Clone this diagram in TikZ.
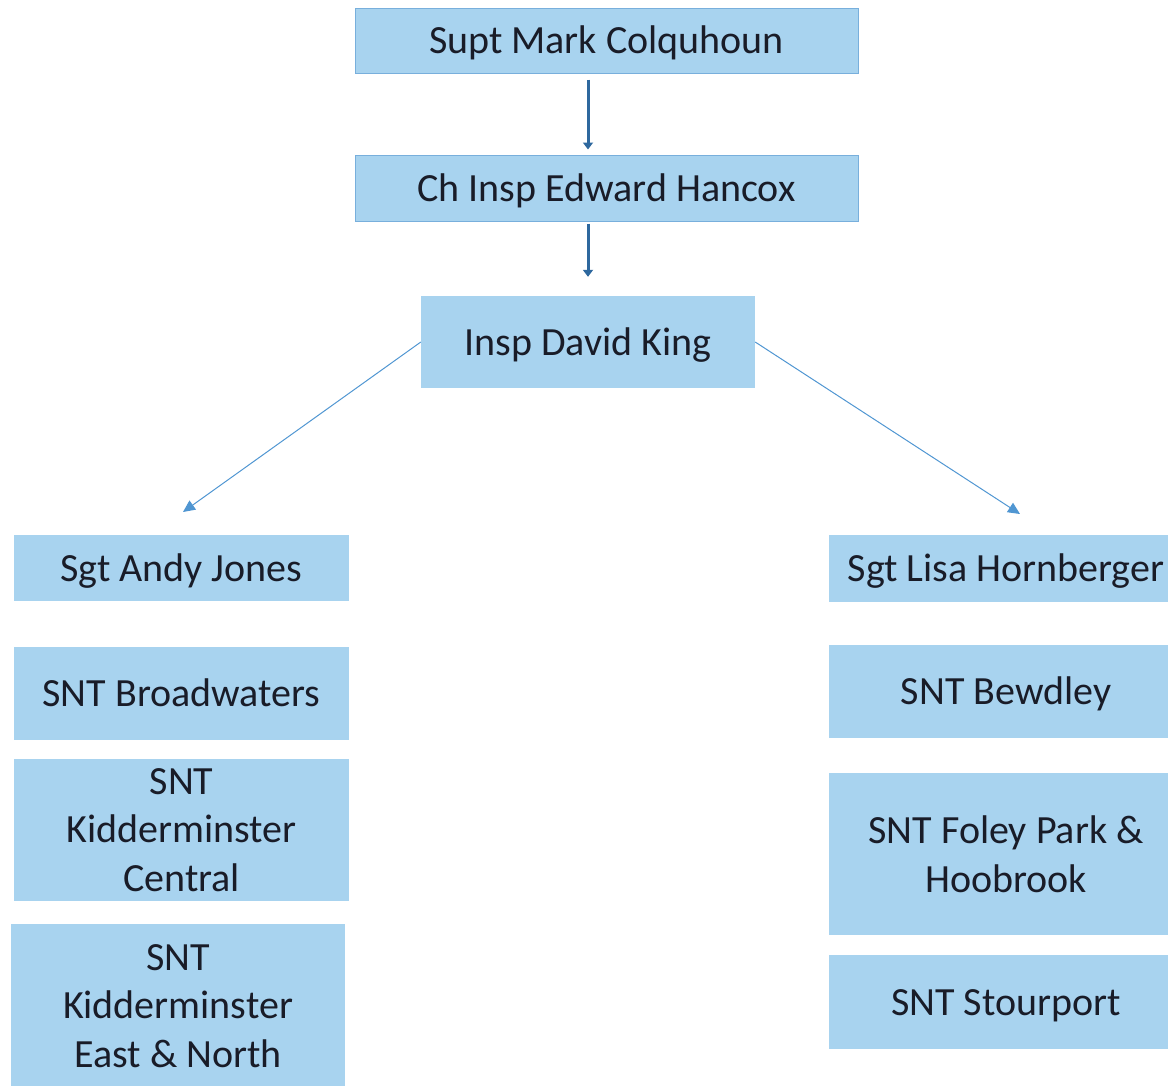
\documentclass[tikz,border=0pt]{standalone}
\usepackage{fontspec}
\setmainfont{Carlito}
\usepackage{tikz}
\usetikzlibrary{arrows.meta}
\definecolor{boxblue}{RGB}{168,211,239}
\definecolor{edgeblue}{RGB}{120,175,220}
\definecolor{darkarrow}{RGB}{46,104,158}
\definecolor{thinarrow}{RGB}{80,150,210}
\definecolor{txt}{RGB}{25,28,40}

\begin{document}
\begin{tikzpicture}[x=1pt,y=-1pt,
  box/.style={rectangle,fill=boxblue,inner sep=0pt,align=center,text=txt,
    font=\fontsize{40}{48.8}\selectfont},
  oneline/.style={box,text height=27pt,text depth=1pt},
  topbox/.style={oneline,draw=edgeblue,line width=1pt},
  downarrow/.style={draw=darkarrow,line width=3pt,-{Triangle[length=7pt,width=10pt]}},
  slantarrow/.style={draw=thinarrow,line width=1pt,-{Triangle[length=12pt,width=11pt]}}]
\useasboundingbox (0,0) rectangle (1168,1085);
%\fill[white] (0,0) rectangle (1168,1085);
\path (606.5,40.5) node(supt) [topbox,minimum width=503pt,minimum height=65pt]{Supt Mark Colquhoun};
\path (606.5,188) node(chinsp) [topbox,minimum width=503pt,minimum height=66pt]{Ch Insp Edward Hancox};
\path (588,342) node(king) [oneline,minimum width=334pt,minimum height=92pt]{Insp David King};

\path (181.5,568) node(andy) [oneline,minimum width=335pt,minimum height=66pt]{Sgt Andy Jones};
\path (181.5,693.5) node(broad) [oneline,minimum width=335pt,minimum height=93pt]{SNT Broadwaters};
\path (181.5,830) node(kcentral) [box,minimum width=335pt,minimum height=142pt]{SNT\\Kidderminster\\Central};
\path (178,1006) node(keast) [box,minimum width=334pt,minimum height=164pt]{SNT\\Kidderminster\\East \& North};

\path (1006,568.5) node(lisa) [oneline,minimum width=354pt,minimum height=67pt]{Sgt Lisa Hornberger};
\path (1006,691.5) node(bewdley) [oneline,minimum width=354pt,minimum height=93pt]{SNT Bewdley};
\path (1006,854) node(foley) [box,minimum width=354pt,minimum height=162pt]{SNT Foley Park \&\\Hoobrook};
\path (1006,1002) node(stour) [oneline,minimum width=354pt,minimum height=94pt]{SNT Stourport};

\coordinate (andytip) at (183,512);
\coordinate (lisatip) at (1020,514);

\draw[downarrow,shorten <=6pt,shorten >=5pt] (supt.south -| king) -- (chinsp.north -| king);
\draw[downarrow,shorten <=2pt,shorten >=19pt] (chinsp.south -| king) -- (king.north);
\draw[slantarrow] (king.west) -- (andytip);
\draw[slantarrow] (king.east) -- (lisatip);
\end{tikzpicture}
\end{document}
